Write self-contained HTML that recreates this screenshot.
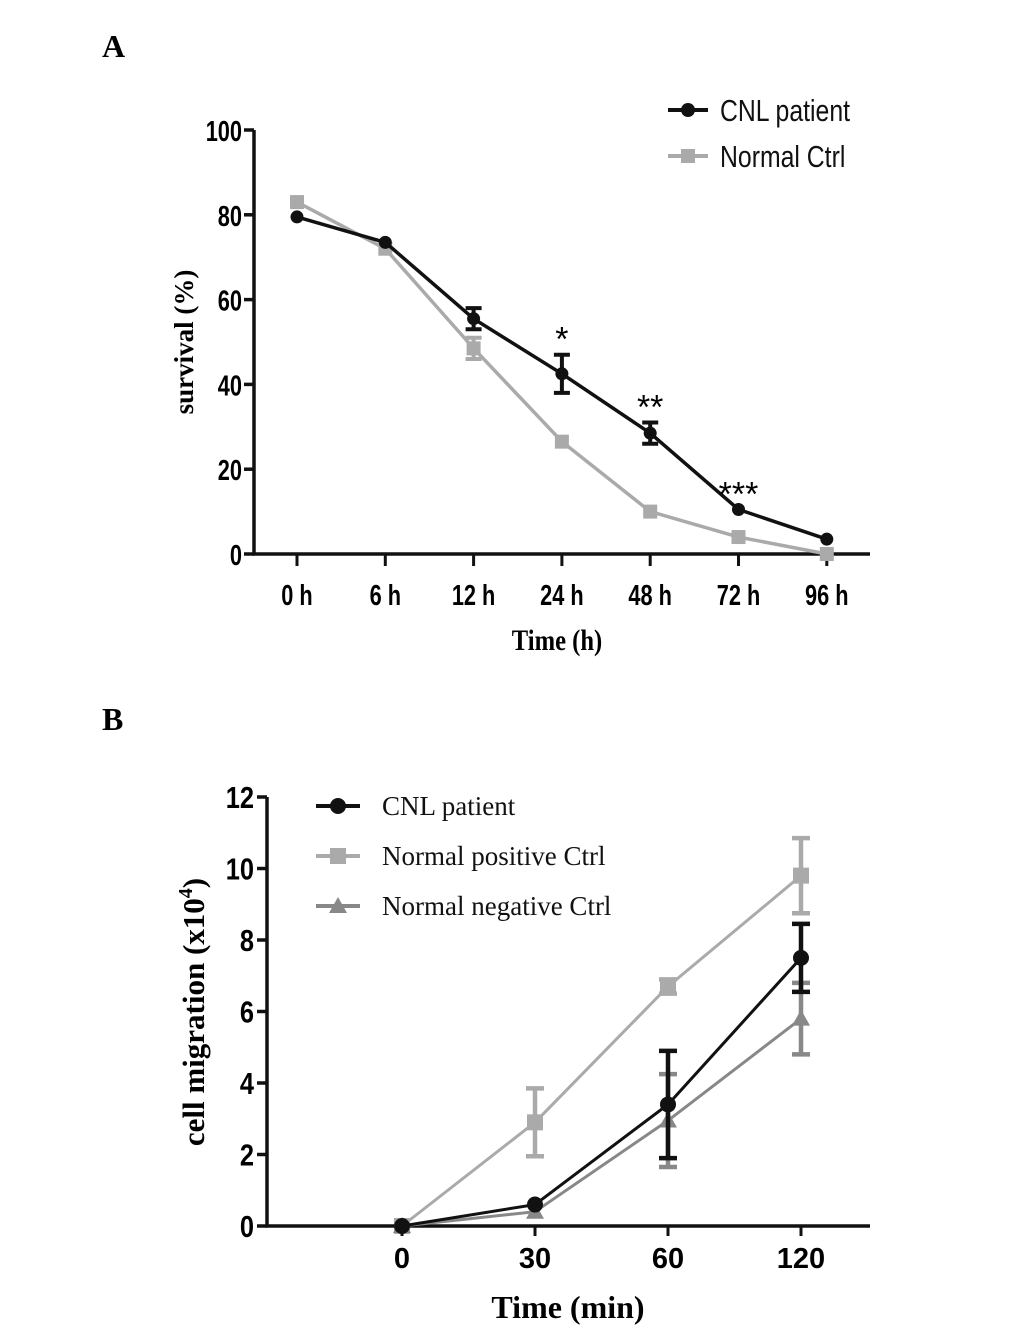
<!DOCTYPE html>
<html><head><meta charset="utf-8"><style>
html,body{margin:0;padding:0;background:#fff;width:1033px;height:1334px;overflow:hidden}
svg{display:block}
</style></head><body>
<svg id="s" width="1033" height="1334" xmlns="http://www.w3.org/2000/svg">
<text x="102" y="57" font-family="Liberation Serif, serif" font-weight="bold" font-size="32">A</text>
<text x="102" y="730" font-family="Liberation Serif, serif" font-weight="bold" font-size="32">B</text>
<g id="ga"></g>
<g id="gb"></g>
</svg>
<script>
const aCats=["0 h","6 h","12 h","24 h","48 h","72 h","96 h"];
const aCnl=[79.5,73.5,55.5,42.5,28.5,10.5,3.5];
const aCnlErr=[0,0,2.5,4.5,2.5,0,0];
const aNorm=[83,72,48.5,26.5,10,4,0];
const aNormErr=[0,0,2.5,0,0,0,0];
const aStars=["","","","*","**","***",""];
const aTicks=[0,20,40,60,80,100];
const bCats=["0","30","60","120"];
const bCnl=[0,0.6,3.4,7.5];
const bCnlErr=[0,0,1.5,0.95];
const bPos=[0,2.9,6.7,9.8];
const bPosErr=[0,0.95,0.2,1.05];
const bNeg=[0,0.4,2.95,5.8];
const bNegErr=[0,0,1.3,1.0];
const bTicks=[0,2,4,6,8,10,12];
const NS="http://www.w3.org/2000/svg";
function mk(p,t,a,txt){const e=document.createElementNS(NS,t);for(const k in a)e.setAttribute(k,a[k]);if(txt!==undefined)e.textContent=txt;p.appendChild(e);return e;}
// Chart A
const ga=document.getElementById('ga');
const axA=i=>297+i*88.3, ayA=v=>554-v*4.24;
let e;
e=mk(ga,'path',{d:`M254 ${ayA(100)} V554 H870`,stroke:'#111','stroke-width':3.5,fill:'none'});

aTicks.forEach(t=>{mk(ga,'line',{x1:244,x2:254,y1:ayA(t),y2:ayA(t),stroke:'#111','stroke-width':3.5});
 e=mk(ga,'text',{x:242,y:ayA(t)+11,'text-anchor':'end','font-family':'Liberation Sans, sans-serif','font-weight':'bold','font-size':29,transform:`translate(242 0) scale(0.75 1) translate(-242 0)`},t);
 });
aCats.forEach((c,i)=>{mk(ga,'line',{x1:axA(i),x2:axA(i),y1:554,y2:566,stroke:'#111','stroke-width':3});
 e=mk(ga,'text',{x:axA(i),y:605,'text-anchor':'middle','font-family':'Liberation Sans, sans-serif','font-weight':'bold','font-size':29,transform:`translate(${axA(i)} 0) scale(0.75 1) translate(${-axA(i)} 0)`},c);
 });
e=mk(ga,'text',{x:557,y:650,'text-anchor':'middle','font-family':'Liberation Serif, serif','font-weight':'bold','font-size':30,transform:'translate(557 0) scale(0.82 1) translate(-557 0)'},'Time (h)');

e=mk(ga,'text',{x:0,y:0,'text-anchor':'middle','font-family':'Liberation Serif, serif','font-weight':'bold','font-size':27,transform:'translate(193 342) rotate(-90)'},'survival (%)');

function seriesA(vals,errs,col,shape,name){
 const g=mk(ga,'g',{});
 mk(g,'polyline',{points:vals.map((v,i)=>axA(i)+','+ayA(v)).join(' '),stroke:col,'stroke-width':3.5,fill:'none'});
 vals.forEach((v,i)=>{const x=axA(i),y=ayA(v);
  if(errs[i]>0){const y1=ayA(v+errs[i]),y2=ayA(v-errs[i]);
   mk(g,'path',{d:`M${x} ${y1}V${y2}M${x-8} ${y1}H${x+8}M${x-8} ${y2}H${x+8}`,stroke:col,'stroke-width':4,fill:'none'});}
  if(shape==='c')mk(g,'circle',{cx:x,cy:y,r:6.5,fill:col});else mk(g,'rect',{x:x-7,y:y-7,width:14,height:14,fill:col});});
}
seriesA(aNorm,aNormErr,'#aaa','s','series-normal-ctrl-a');
seriesA(aCnl,aCnlErr,'#111','c','series-cnl-a');
aStars.forEach((s,i)=>{if(!s)return;e=mk(ga,'text',{x:axA(i),y:ayA(aCnl[i]+aCnlErr[i])-4,'text-anchor':'middle','font-family':'Liberation Sans, sans-serif','font-size':34},s);
 });
[['CNL patient','#111','c',110],['Normal Ctrl','#aaa','s',156]].forEach(([t,c,sh,y])=>{
 const g=mk(ga,'g',{});
 mk(g,'line',{x1:668,x2:708,y1:y,y2:y,stroke:c,'stroke-width':4});
 if(sh==='c')mk(g,'circle',{cx:688,cy:y,r:7,fill:c});else mk(g,'rect',{x:681,y:y-7,width:14,height:14,fill:c});
 mk(g,'text',{x:720,y:y+11,'font-family':'Liberation Sans, sans-serif','font-size':31,transform:'translate(720 0) scale(0.8 1) translate(-720 0)',fill:'#111'},t);});
// Chart B
const gb=document.getElementById('gb');
const xpos=[402,535,668,802];
const axB=i=>xpos[0]+(xpos[1]-xpos[0])*[0,1,2,3][i];
const ayB=v=>1226-v*35.75;
e=mk(gb,'path',{d:`M267 ${ayB(12)} V1226 H870`,stroke:'#111','stroke-width':3.5,fill:'none'});

bTicks.forEach(t=>{mk(gb,'line',{x1:257,x2:267,y1:ayB(t),y2:ayB(t),stroke:'#111','stroke-width':3.5});
 e=mk(gb,'text',{x:254,y:ayB(t)+11,'text-anchor':'end','font-family':'Liberation Sans, sans-serif','font-weight':'bold','font-size':31,transform:'translate(254 0) scale(0.82 1) translate(-254 0)'},t);
 });
bCats.forEach((c,i)=>{mk(gb,'line',{x1:axB(i),x2:axB(i),y1:1226,y2:1236,stroke:'#111','stroke-width':3});
 e=mk(gb,'text',{x:axB(i),y:1268,'text-anchor':'middle','font-family':'Liberation Sans, sans-serif','font-weight':'bold','font-size':29},c);
 });
e=mk(gb,'text',{x:568,y:1318,'text-anchor':'middle','font-family':'Liberation Serif, serif','font-weight':'bold','font-size':32},'Time (min)');

e=mk(gb,'text',{x:0,y:0,'text-anchor':'middle','font-family':'Liberation Serif, serif','font-weight':'bold','font-size':31,transform:'translate(204 1012) rotate(-90)'});

e.innerHTML='cell migration (x10<tspan dy="-12" font-size="20">4</tspan><tspan dy="12">)</tspan>';
function seriesB(vals,errs,col,shape,name,up){
 const g=mk(gb,'g',{});
 mk(g,'polyline',{points:vals.map((v,i)=>axB(i)+','+ayB(v)).join(' '),stroke:col,'stroke-width':3,fill:'none'});
 vals.forEach((v,i)=>{const x=axB(i),y=ayB(v);
  if(errs[i]>0){const y1=ayB(v+errs[i]),y2=ayB(v-errs[i]);
   mk(g,'path',{d:`M${x} ${y1}V${y2}M${x-9} ${y1}H${x+9}M${x-9} ${y2}H${x+9}`,stroke:col,'stroke-width':4.5,fill:'none'});}
  if(shape==='c')mk(g,'circle',{cx:x,cy:y,r:8,fill:col});
  else if(shape==='s')mk(g,'rect',{x:x-8,y:y-8,width:16,height:16,fill:col});
  else mk(g,'polygon',{points:`${x},${y-9} ${x-9},${y+7} ${x+9},${y+7}`,fill:col});});
}
seriesB(bPos,bPosErr,'#aaa','s','series-normal-positive-b');
seriesB(bNeg,bNegErr,'#888','t','series-normal-negative-b');
seriesB(bCnl,bCnlErr,'#111','c','series-cnl-b');
[['CNL patient','#111','c',806],['Normal positive Ctrl','#aaa','s',856],['Normal negative Ctrl','#888','t',906]].forEach(([t,c,sh,y])=>{
 const g=mk(gb,'g',{});
 mk(g,'line',{x1:316,x2:360,y1:y,y2:y,stroke:c,'stroke-width':4});
 if(sh==='c')mk(g,'circle',{cx:338,cy:y,r:8,fill:c});
 else if(sh==='s')mk(g,'rect',{x:330,y:y-8,width:16,height:16,fill:c});
 else mk(g,'polygon',{points:`338,${y-9} 329,${y+7} 347,${y+7}`,fill:c});
 mk(g,'text',{x:382,y:y+9,'font-family':'Liberation Serif, serif','font-size':27,fill:'#111'},t);});
</script>
</body></html>
